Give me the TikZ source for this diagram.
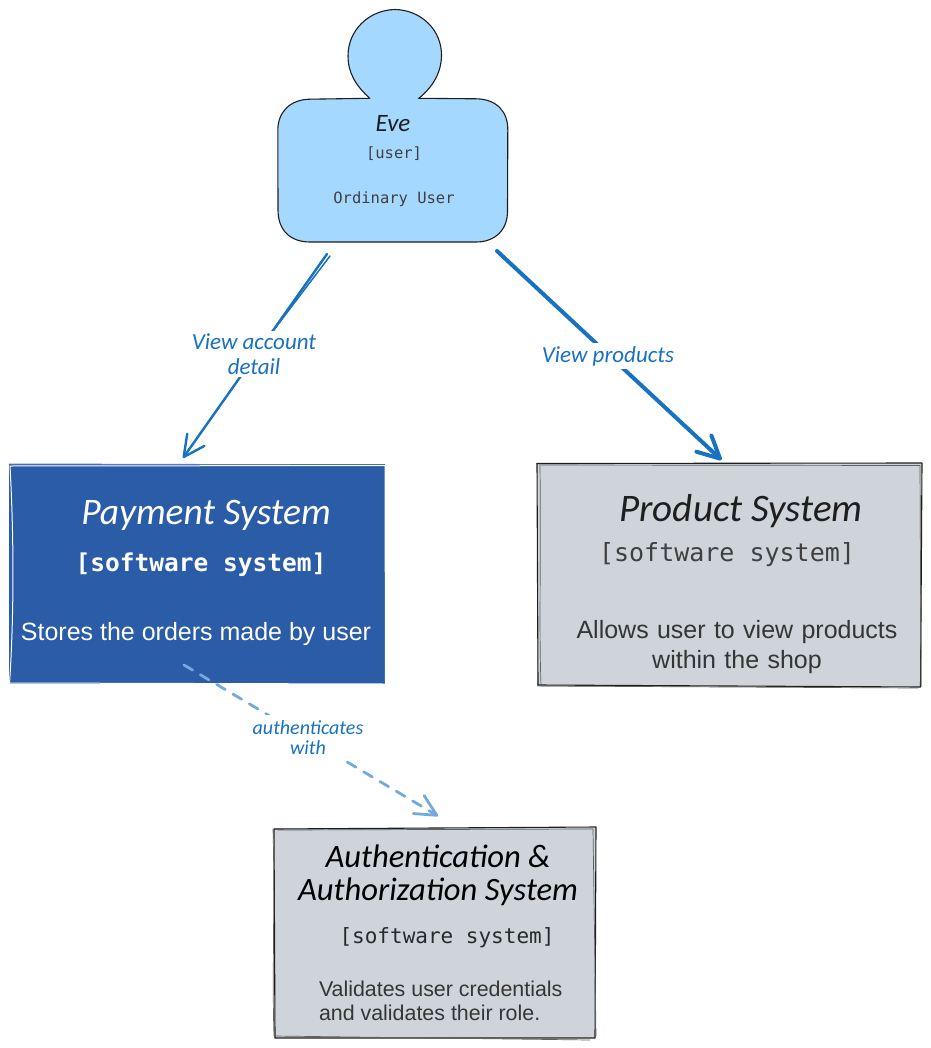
\documentclass[tikz,border=0pt]{standalone}
\usepackage{fontspec}
\setmainfont{Liberation Sans}
\newfontfamily\handfont{Carlito}[ItalicFont=* Italic]
\newfontfamily\codefont{DejaVu Sans Mono}
\usetikzlibrary{arrows.meta}
\definecolor{evefill}{HTML}{A5D8FF}
\definecolor{boxblue}{HTML}{2A5CA7}
\definecolor{boxgrey}{HTML}{CED4DA}
\definecolor{linkblue}{HTML}{1971C2}
\definecolor{linkpale}{HTML}{74A9DB}
\definecolor{inkdark}{HTML}{1E1E1E}
\tikzset{
  boxbase/.style={rectangle,inner sep=0pt,outer sep=0pt,draw=none},
  ink/.style={draw=inkdark,line width=1.1pt,line cap=round,line join=round},
  inkthin/.style={draw=inkdark!70,line width=.7pt,line cap=round},
  chalk/.style={draw=white,line width=1pt,line cap=round},
  txt/.style={inner sep=0pt,outer sep=0pt,align=center},
  hand/.style={txt,font=\handfont\itshape\fontsize{#1}{#1}\selectfont},
  mono/.style={txt,font=\codefont\fontsize{#1}{#1}\selectfont},
  body/.style={txt,font=\fontsize{#1}{#1}\selectfont},
  linklabel/.style 2 args={txt,fill=white,text=linkblue,inner xsep=3pt,inner ysep=3pt,font=\handfont\itshape\fontsize{#1}{#2}\selectfont},
  link/.style={draw=linkblue,line cap=round,line join=round},
  barb/.style={-{Straight Barb[length=#1,width=#1,round]}},
}
\begin{document}
\begin{tikzpicture}[x=1pt,y=-1pt]
\useasboundingbox (0,0) rectangle (930,1048);

% Eve: head, then body
\fill[evefill] (370,99) .. controls (356,86) and (348,73) .. (348,56) .. controls (348,30) and (369,10) .. (395,9.5) .. controls (421,10) and (442,30) .. (441.5,56) .. controls (441,73) and (433,87) .. (419,99) -- cycle;
\draw[ink] (370,98.5) .. controls (356,86) and (348,73) .. (348,56) .. controls (348,30) and (369,10) .. (395,9.5) .. controls (421,10) and (442,30) .. (441.5,56) .. controls (441,73) and (433,87) .. (418,99);
\node[boxbase,fill=evefill,rounded corners=31pt,minimum width=230pt,minimum height=143.5pt] (eve) at (393,170.5) {};
\draw[ink] (419,98.3) -- (476,98.8) .. controls (497,99) and (508,112) .. (507.8,130) -- (507.5,210) .. controls (508,230) and (495,242) .. (476,242) -- (310,242) .. controls (290,242) and (278,230) .. (278,210) -- (277.8,130) .. controls (278,112) and (290,99.5) .. (310,99.2) -- (369,98.3);
\node[hand=25,text=inkdark] (evename) at (393,124) {Eve};
\node[mono=15.5,text=inkdark!85] (evetype) at (394,154) {[user]};
\node[mono=15.5,text=inkdark!85] (evedesc) at (394,199) {Ordinary User};

% Payment System
\node[boxbase,fill=boxblue,minimum width=376pt,minimum height=220pt] (payment) at (197,574) {};
\draw[draw=boxblue!80,line width=1pt] (9,464) -- (385,465);
\draw[chalk] (10,466) -- (385,465.5) -- (385.5,684);
\draw[chalk] (10,466) .. controls (13,520) and (15,600) .. (9.5,684);
\draw[chalk] (9,683) -- (385,684);
\node[hand=37.5,text=white] (payname) at (206,515) {Payment System};
\node[mono=24.5,text=white,font=\codefont\bfseries\fontsize{24.5}{24.5}\selectfont] (paytype) at (201,565) {[software system]};
\node[body=25,text=white] (paydesc) at (196,634) {Stores the orders made by user};

% Product System
\node[boxbase,fill=boxgrey,minimum width=385pt,minimum height=224pt] (product) at (729.5,575) {};
\draw[ink] (537,463.5) -- (922,463) -- (920.5,687) -- (538,685);
\draw[ink] (537,463.5) -- (538,685);
\draw[inkthin] (541,465) -- (920,465.5) -- (921,686);
\draw[inkthin] (540,464) .. controls (541,560) and (539,630) .. (541,686) -- (918,688);
\node[hand=39,text=inkdark] (prodname) at (741,511) {Product System};
\node[mono=25,text=inkdark!85] (prodtype) at (727,555) {[software system]};
\node[body=25,text=inkdark!90,text width=385pt,font=\fontsize{25}{29.5}\selectfont] (proddesc) at (737,647) {Allows user to view products\\within the shop};

% Authentication & Authorization System
\node[boxbase,fill=boxgrey,minimum width=322pt,minimum height=210pt] (auth) at (435,933) {};
\draw[ink] (274,829) -- (596,827) -- (595,1038) -- (275,1038) -- cycle;
\draw[inkthin] (278,830) -- (593,829) -- (596,1036);
\draw[inkthin] (273,829) .. controls (275,900) and (272,980) .. (274,1036) -- (590,1040);
\node[txt,text=black,font=\handfont\itshape\fontsize{32.6}{33}\selectfont] (authname) at (438,875) {Authentication \&\\Authorization System};
\node[mono=21,text=inkdark!95] (authtype) at (447,938) {[software system]};
\node[txt,align=left,text=inkdark!90,anchor=north west,font=\fontsize{21.4}{24.3}\selectfont] (authdesc) at (319,981) {Validates user credentials\\and validates their role.};

% Connectors
\coordinate (a1s) at (327,254);
\coordinate (a1e) at (183,458);
\coordinate (a1t) at (330,256);
\coordinate (a1m) at (270,335);
\coordinate (a2s) at (497,251);
\coordinate (a2e) at (721.5,460);
\coordinate (a3s) at (184,665);
\coordinate (a3e) at (438,816);

\draw[link,line width=2.4pt,barb=21pt] (a1s) -- (a1e);
\draw[link,line width=1.5pt] (a1t) -- (a1m);
\draw[link,line width=4pt,barb=22pt] (a2s) -- (a2e);
\draw[draw=linkpale,line width=2.8pt,line cap=round,dash pattern=on 10pt off 9pt,barb=21pt] (a3s) -- (a3e);

\node[linklabel={23}{25}] (l1) at (254,354) {View account\\detail};
\node[linklabel={23}{25}] (l2) at (608,356) {View products};
\node[linklabel={20}{20},inner ysep=5pt] (l3) at (308,737.5) {authenticates\\with};
\end{tikzpicture}
\end{document}
